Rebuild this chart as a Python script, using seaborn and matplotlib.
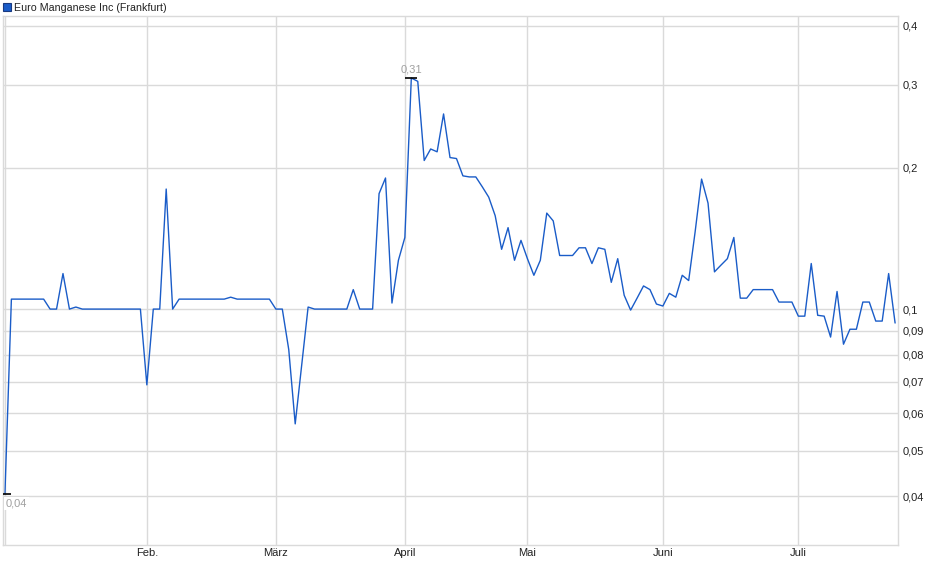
import matplotlib
matplotlib.use("Agg")
import matplotlib.pyplot as plt
import seaborn as sns
import pandas as pd
from matplotlib.patches import Patch
from matplotlib.ticker import FixedLocator, NullLocator, FixedFormatter

# ---------------- data ----------------
series_name = "Euro Manganese Inc (Frankfurt)"

prices = [
    0.0405,
    0.105, 0.105, 0.105, 0.105, 0.105, 0.105,
    0.100, 0.100, 0.119, 0.100, 0.101,
    0.100, 0.100, 0.100, 0.100, 0.100, 0.100, 0.100, 0.100, 0.100, 0.100,
    0.069, 0.100, 0.100, 0.180, 0.100,
    0.105, 0.105, 0.105, 0.105, 0.105, 0.105, 0.105, 0.105,
    0.106,
    0.105, 0.105, 0.105, 0.105, 0.105, 0.105,
    0.100, 0.100, 0.082, 0.057, 0.076,
    0.101, 0.100, 0.100, 0.100, 0.100, 0.100, 0.100,
    0.110, 0.100, 0.100, 0.100,
    0.176, 0.190, 0.103, 0.127, 0.142,
    0.310, 0.305, 0.207, 0.219, 0.216, 0.260, 0.210, 0.209,
    0.192, 0.191, 0.191, 0.182, 0.173, 0.158, 0.134, 0.149, 0.127, 0.140,
    0.128, 0.118, 0.127, 0.160, 0.154, 0.130, 0.130, 0.130, 0.135, 0.135,
    0.125, 0.135, 0.134, 0.114, 0.128, 0.107, 0.0995, 0.1055, 0.112, 0.110,
    0.1025, 0.1015, 0.108, 0.106, 0.118, 0.115, 0.146, 0.189, 0.168, 0.120,
    0.124, 0.128, 0.142, 0.1055, 0.1055,
    0.110, 0.110, 0.110, 0.110,
    0.1035, 0.1035, 0.1035,
    0.0966, 0.0966, 0.125, 0.097, 0.0966, 0.0872, 0.109, 0.0842, 0.0906, 0.0906,
    0.1035, 0.1035, 0.0943, 0.0943, 0.119, 0.0934,
]

month_pos = [0, 22, 42, 62, 81, 102, 123]
month_labels = ["", "Feb.", "März", "April", "Mai", "Juni", "Juli"]

y_ticks = [0.04, 0.05, 0.06, 0.07, 0.08, 0.09, 0.1, 0.2, 0.3, 0.4]
y_labels = ["0,04", "0,05", "0,06", "0,07", "0,08", "0,09", "0,1", "0,2", "0,3", "0,4"]

# ---------------- style ----------------
LINE = "#1a5cc8"
GRID = "#dadada"
TXT = "#222222"
ANN = "#a0a0a0"

sns.set_theme(style="white")
plt.rcParams["font.family"] = ["Liberation Sans", "DejaVu Sans"]

df = pd.DataFrame({"t": range(len(prices)), "price": prices})

W, H = 940, 579
fig = plt.figure(figsize=(W / 100, H / 100), dpi=100)
L, R, T, B = 3, 898, 16, 545
ax = fig.add_axes([L / W, 1 - B / H, (R - L) / W, (B - T) / H])

sns.lineplot(data=df, x="t", y="price", ax=ax, color=LINE, linewidth=1.0)

ax.set_yscale("log")
ax.set_ylim(0.0315, 0.42)
ax.set_xlim(-0.3, len(prices) - 0.55)

ax.yaxis.set_major_locator(FixedLocator(y_ticks))
ax.yaxis.set_major_formatter(FixedFormatter(y_labels))
ax.yaxis.set_minor_locator(NullLocator())
ax.yaxis.tick_right()
ax.set_xticks(month_pos)
ax.set_xticklabels(month_labels)

ax.tick_params(axis="both", length=0, labelsize=8, colors=TXT)
ax.tick_params(axis="y", pad=3)
ax.tick_params(axis="x", pad=2)
ax.set_xlabel("")
ax.set_ylabel("")

ax.grid(True, color=GRID, linewidth=1.0)
ax.set_axisbelow(True)
for s in ax.spines.values():
    s.set_color(GRID)
    s.set_linewidth(1.0)

# min / max markers
vals = df["price"]
imax, imin = int(vals.idxmax()), int(vals.idxmin())
vmax, vmin = vals[imax], vals[imin]
for i, v in ((imax, vmax), (imin, vmin)):
    ax.plot([i], [v], marker="_", markersize=9, markeredgewidth=1.2, color="black", zorder=5)

ax.annotate(f"{vmax:.2f}".replace(".", ","), (imax, vmax), xytext=(0, 2.5),
            textcoords="offset points", ha="center", va="bottom", color=ANN, fontsize=8)
ax.annotate(f"{vmin:.2f}".replace(".", ","), (imin, vmin), xytext=(0.5, -3.5),
            textcoords="offset points", ha="left", va="top", color=ANN, fontsize=8,
            bbox=dict(boxstyle="square,pad=0.15", fc="white", ec="none"))

# legend
fig.legend(handles=[Patch(facecolor=LINE, edgecolor="#1a3a80", linewidth=0.8)],
           labels=[series_name], loc="upper left", bbox_to_anchor=(-0.001, 1.002),
           frameon=False, fontsize=7.7, handlelength=0.75, handleheight=0.75,
           handletextpad=0.3, borderpad=0.15, borderaxespad=0.2, labelcolor=TXT)

fig.savefig("out.png", dpi=100)
